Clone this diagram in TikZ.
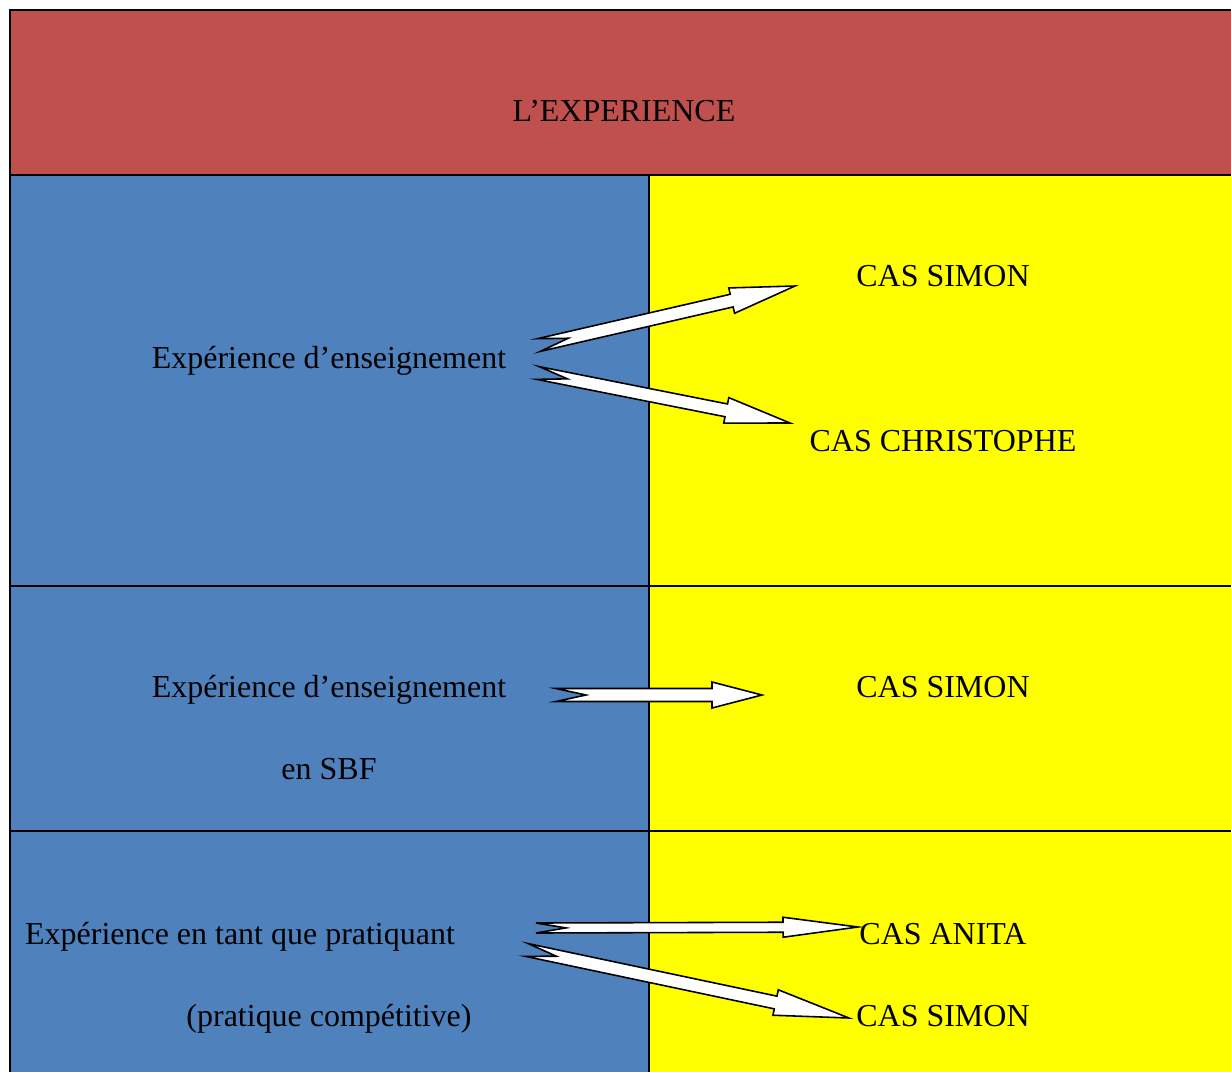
\documentclass[tikz,border=0pt]{standalone}
\usepackage{fontspec}
\setmainfont{Liberation Serif}
\usetikzlibrary{calc}
\definecolor{expred}{HTML}{C0504D}
\definecolor{expblue}{HTML}{4F81BD}
\definecolor{casyellow}{HTML}{FFFF00}
\tikzset{
    cell/.style={line width=1.1pt, draw=black},
    celltext/.style={font=\fontsize{18.2}{22}\selectfont, anchor=base, inner sep=0pt},
    arrowbox/.style={draw=black, fill=white, line width=0.9pt, line join=miter},
}
% notched block arrow: tail, tip, shaft half width, head half width, head length
\newcommand{\blockarrow}[5]{%
    \draw[arrowbox]
        ($(#1)!#3!90:(#2)$)
        -- ($(#1)!0.6cm!(#2)$)
        -- ($(#1)!#3!-90:(#2)$)
        -- ($($(#2)!#5!(#1)$)!#3!90:(#1)$)
        -- ($($(#2)!#5!(#1)$)!#4!90:(#1)$)
        -- (#2)
        -- ($($(#2)!#5!(#1)$)!#4!-90:(#1)$)
        -- ($($(#2)!#5!(#1)$)!#3!-90:(#1)$)
        -- cycle;
}

\begin{document}
\begin{tikzpicture}[x=0.02cm, y=-0.02cm]
    \useasboundingbox (0,0) rectangle (1231,1072);
    \clip (0,0) rectangle (1231,1072);
    % Title band
    \draw[cell, fill=expred] (10,10) rectangle (1250,175);
    \node[celltext] (title) at (624,121) {L'EXPERIENCE};
    % Rows
    \foreach \top/\bot in {175/586, 586/831, 831/1090} {
        \draw[cell, fill=expblue] (10,\top) rectangle (649,\bot);
        \draw[cell, fill=casyellow] (649,\top) rectangle (1250,\bot);
    }
    % Left column
    \node[celltext] (ens) at (329,368) {Expérience d'enseignement};
    \node[celltext] (ensSBF) at (329,697) {Expérience d'enseignement};
    \node[celltext] (sbf) at (329,779) {en SBF};
    \node[celltext] (pratiquant) at (240,944) {Expérience en tant que pratiquant};
    \node[celltext] (competitive) at (329,1026) {(pratique compétitive)};
    % Right column
    \node[celltext] (simonA) at (943,286) {CAS SIMON};
    \node[celltext] (christophe) at (943,451) {CAS CHRISTOPHE};
    \node[celltext] (simonB) at (943,697) {CAS SIMON};
    \node[celltext] (anita) at (943,944) {CAS ANITA};
    \node[celltext] (simonC) at (943,1026) {CAS SIMON};
    % Arrow ends
    \coordinate (ensA) at (539,345);
    \coordinate (ensB) at (538,373);
    \coordinate (sbfA) at (556,695);
    \coordinate (pratA) at (536,928);
    \coordinate (pratB) at (527,950);
    \coordinate (toSimonA) at (795,286);
    \coordinate (toChristophe) at (790,423);
    \coordinate (toSimonB) at (762,695);
    \coordinate (toAnita) at (858,927);
    \coordinate (toSimonC) at (849,1018);
    % Arrows
    \foreach \from/\to/\hl in {ensA/toSimonA/1.3cm, ensB/toChristophe/1.3cm,
                               sbfA/toSimonB/1.0cm, pratB/toSimonC/1.5cm} {
        \blockarrow{\from}{\to}{0.13cm}{0.26cm}{\hl}
    }
    \blockarrow{pratA}{toAnita}{0.1cm}{0.2cm}{1.5cm}
\end{tikzpicture}
\end{document}
